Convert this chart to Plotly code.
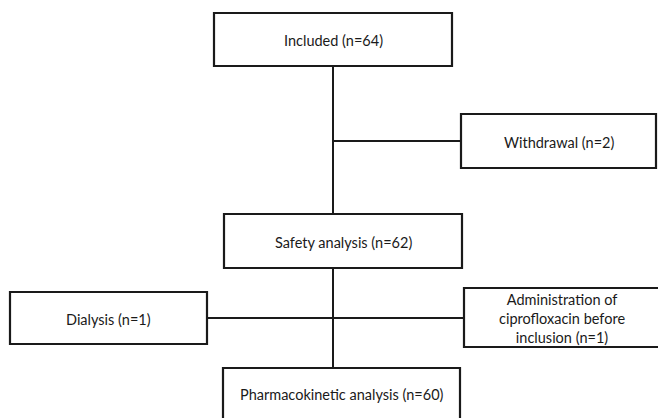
import plotly.graph_objects as go

# Flowchart content
stage_labels = ["Included", "Withdrawal", "Safety analysis", "Dialysis",
                "Administration of<br>ciprofloxacin before<br>inclusion",
                "Pharmacokinetic analysis"]
stage_counts = [64, 2, 62, 1, 1, 60]

# Box geometry (pixel-space layout: x0, x1, y0, y1)
box_x0 = [214, 461, 224, 10, 464, 223]
box_x1 = [452, 656, 462, 207, 662, 460]
box_y0 = [13, 114, 214, 292, 288, 368]
box_y1 = [66, 168, 268, 344, 347, 430]
text_y = [40, 142, 242, 319, 318, 394]

W, H = 658, 418
fig = go.Figure()
fig.add_trace(go.Scatter(x=[0, W], y=[0, H], mode="markers",
                         marker=dict(opacity=0), hoverinfo="skip", showlegend=False))

line_col = "#1a1a1a"
shapes = []
connectors = [
    (333, 66, 333, 214),    # included -> safety
    (333, 141, 461, 141),   # to withdrawal
    (333, 268, 333, 368),   # safety -> PK
    (207, 318, 464, 318),   # dialysis <-> administration
]
for x0, y0, x1, y1 in connectors:
    shapes.append(dict(type="line", xref="x", yref="y", x0=x0, y0=y0, x1=x1, y1=y1,
                       line=dict(color=line_col, width=2)))
for i in range(len(stage_labels)):
    shapes.append(dict(type="rect", xref="x", yref="y",
                       x0=box_x0[i], x1=box_x1[i], y0=box_y0[i], y1=box_y1[i],
                       line=dict(color=line_col, width=2.2), fillcolor="white", layer="above"))

annotations = []
for i, (lab, n) in enumerate(zip(stage_labels, stage_counts)):
    xc = (box_x0[i] + box_x1[i]) / 2
    if i == 4:
        xc = 562
    annotations.append(dict(x=xc, y=text_y[i], xref="x", yref="y",
                            text=f"{lab} (n={n})", showarrow=False,
                            font=dict(family="Lato, Open Sans, sans-serif", size=14.5, color="#1a1a1a"),
                            align="center", xanchor="center", yanchor="middle"))

fig.update_layout(
    width=W, height=H, margin=dict(l=0, r=0, t=0, b=0),
    paper_bgcolor="white", plot_bgcolor="white",
    xaxis=dict(range=[0, W], visible=False, fixedrange=True),
    yaxis=dict(range=[H, 0], visible=False, fixedrange=True),
    shapes=shapes, annotations=annotations, showlegend=False,
)
fig.write_html("out.html", config={"displayModeBar": False},
               post_script="document.body.style.margin='0';document.body.style.overflow='hidden';")
